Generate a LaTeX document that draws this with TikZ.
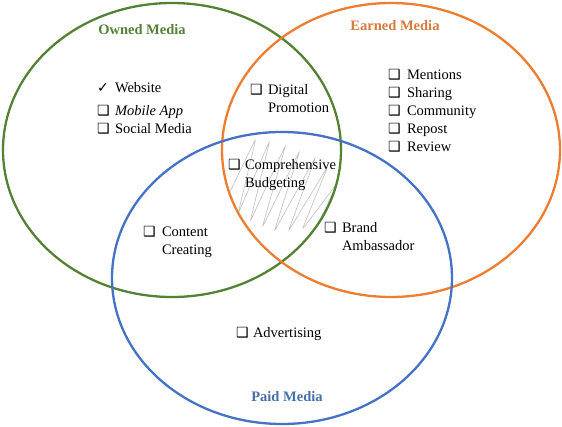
\documentclass[tikz,border=0pt]{standalone}
\usepackage{fontspec}
\setmainfont{Liberation Serif}
\newfontfamily\symfont{DejaVu Sans}
\definecolor{owned}{RGB}{84,130,53}
\definecolor{earned}{RGB}{237,125,49}
\definecolor{paid}{RGB}{68,114,196}
\definecolor{ownedtxt}{RGB}{83,129,53}
\definecolor{earnedtxt}{RGB}{214,122,60}
\definecolor{paidtxt}{RGB}{70,110,170}
\newcommand{\cbx}{{\symfont\fontsize{14}{14}\selectfont ❑}}
\newcommand{\ckm}{{\symfont\fontsize{14}{14}\selectfont ✓}}
\begin{document}
\begin{tikzpicture}[x=1pt,y=-1pt,
  ring/.style={line width=2.3pt},
  item/.style={anchor=base west,inner sep=0pt,outer sep=0pt,font=\fontsize{14.5}{18}\selectfont},
  title/.style={anchor=base,inner sep=0pt,font=\fontsize{14.5}{18}\selectfont\bfseries}]
\useasboundingbox (0,0) rectangle (562,427);
% scribble in the triple intersection
\begin{scope}
  \clip (172,150) ellipse [x radius=169, y radius=147];
  \clip (391,150) ellipse [x radius=169, y radius=147];
  \clip (282,278) ellipse [x radius=170, y radius=146];
  \draw[gray!50,line width=0.6pt,rounded corners=4pt]
    (226,200) -- (256,138) -- (238,214) -- (270,140) -- (250,222) -- (286,144)
    -- (262,228) -- (300,150) -- (274,232) -- (316,156) -- (288,232)
    -- (328,166) -- (302,230) -- (338,182) -- (316,228);
\end{scope}
% ellipses
\draw[ring,owned] (172,150) ellipse [x radius=169, y radius=147];
\draw[ring,earned] (391,150) ellipse [x radius=169, y radius=147];
\draw[ring,paid] (282,278) ellipse [x radius=170, y radius=146];
% titles
\node[title,text=ownedtxt] (tOwned) at (142,35) {Owned Media};
\node[title,text=earnedtxt] (tEarned) at (395,31) {Earned Media};
\node[title,text=paidtxt] (tPaid) at (287,401) {Paid Media};
% owned items
\node[item] (iWeb) at (97,93) {\makebox[18pt][l]{\ckm}Website};
\node[item] (iApp) at (97,116) {\makebox[18pt][l]{\cbx}\textit{Mobile App}};
\node[item] (iSoc) at (97,134) {\makebox[18pt][l]{\cbx}Social Media};
% earned items
\node[item] (iMen) at (388,80) {\makebox[19pt][l]{\cbx}Mentions};
\node[item] (iSha) at (388,98) {\makebox[19pt][l]{\cbx}Sharing};
\node[item] (iCom) at (388,116) {\makebox[19pt][l]{\cbx}Community};
\node[item] (iRep) at (388,134) {\makebox[19pt][l]{\cbx}Repost};
\node[item] (iRev) at (388,152) {\makebox[19pt][l]{\cbx}Review};
% intersections
\node[item] (iDig) at (250,95) {\begin{tabular}[t]{@{}l@{}}\makebox[18pt][l]{\cbx}Digital\\\hspace{18pt}Promotion\end{tabular}};
\node[item] (iBud) at (228,170) {\begin{tabular}[t]{@{}l@{}}\makebox[17pt][l]{\cbx}Comprehensive\\\hspace{17pt}Budgeting\end{tabular}};
\node[item] (iCon) at (143,237) {\begin{tabular}[t]{@{}l@{}}\makebox[19pt][l]{\cbx}Content\\\hspace{19pt}Creating\end{tabular}};
\node[item] (iBra) at (324,233) {\begin{tabular}[t]{@{}l@{}}\makebox[18pt][l]{\cbx}Brand\\\hspace{18pt}Ambassador\end{tabular}};
% paid
\node[item] (iAdv) at (236,338) {\makebox[17pt][l]{\cbx}Advertising};
\end{tikzpicture}
\end{document}
